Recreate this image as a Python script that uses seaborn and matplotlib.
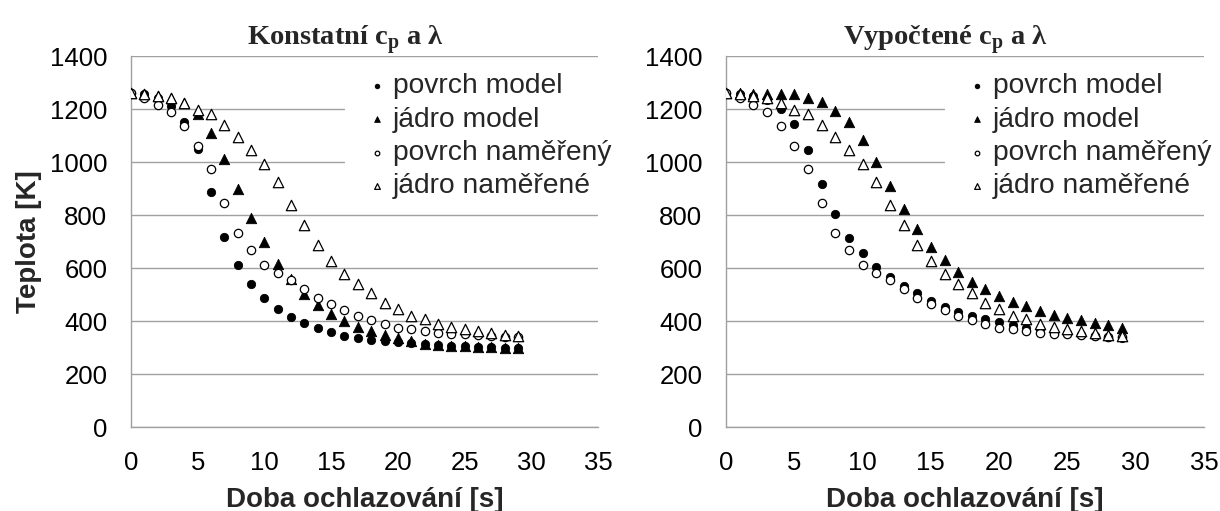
import matplotlib
matplotlib.use("Agg")
import matplotlib.pyplot as plt
import seaborn as sns
import pandas as pd

# ---------------- data ----------------
time_s = list(range(30))

left_surface_model = [1262, 1258, 1243, 1212, 1152, 1048, 886, 717, 612, 539,
                      485, 447, 416, 393, 374, 359, 345, 336, 327, 324,
                      320, 317, 312, 310, 307, 305, 302, 301, 300, 300]
left_core_model = [1262, 1256, 1249, 1241, 1222, 1181, 1111, 1010, 897, 787,
                   699, 615, 557, 501, 460, 428, 400, 378, 362, 346,
                   334, 325, 315, 311, 307, 305, 302, 302, 300, 300]
right_surface_model = [1262, 1258, 1250, 1234, 1200, 1142, 1045, 917, 802, 714,
                       655, 604, 567, 532, 504, 476, 453, 435, 418, 406,
                       397, 384, 374, 368, 359, 353, 346, 344, 340, 336]
right_core_model = [1262, 1260, 1257, 1256, 1256, 1255, 1241, 1228, 1194, 1150,
                    1083, 1001, 911, 822, 746, 680, 630, 586, 548, 519,
                    494, 472, 456, 438, 422, 413, 403, 393, 384, 375]
surface_measured = [1262, 1241, 1214, 1190, 1134, 1062, 974, 844, 733, 668,
                    612, 582, 556, 521, 486, 465, 441, 420, 405, 390,
                    374, 370, 363, 355, 350, 350, 346, 343, 339, 339]
core_measured = [1262, 1256, 1250, 1240, 1222, 1198, 1183, 1141, 1095, 1044,
                 991, 924, 837, 761, 686, 627, 577, 538, 504, 468,
                 445, 420, 406, 390, 378, 371, 364, 353, 348, 345]

series_labels = ["povrch model", "jádro model", "povrch naměřený", "jádro naměřené"]
panel_titles = [r"Konstatní c$_\mathregular{p}$ a λ", r"Vypočtené c$_\mathregular{p}$ a λ"]
x_label = "Doba ochlazování [s]"
y_label = "Teplota [K]"
x_ticks = [0, 5, 10, 15, 20, 25, 30, 35]
y_ticks = [0, 200, 400, 600, 800, 1000, 1200, 1400]

# ---------------- style ----------------
sns.set_theme(style="white")
plt.rcParams["font.family"] = ["Liberation Sans", "DejaVu Sans"]
GRID = "#a0a0a0"

fig = plt.figure(figsize=(12.2, 5.11), dpi=100)
W, H = 1220, 511
ax_left = fig.add_axes([131 / W, (H - 427) / H, 467 / W, 371 / H])
ax_right = fig.add_axes([726 / W, (H - 427) / H, 478 / W, 371 / H])

panels = [
    (ax_left, left_surface_model, left_core_model),
    (ax_right, right_surface_model, right_core_model),
]

styles = [
    dict(marker="o", s=36, color="black", edgecolor="black", linewidth=0.6),
    dict(marker="^", s=56, color="black", edgecolor="black", linewidth=0.6),
    dict(marker="o", s=36, facecolor="white", edgecolor="black", linewidth=0.9),
    dict(marker="^", s=56, facecolor="white", edgecolor="black", linewidth=0.9),
]

for i, (ax, surf_model, core_model) in enumerate(panels):
    series = [surf_model, core_model, surface_measured, core_measured]
    for lab, vals, st in zip(series_labels, series, styles):
        df = pd.DataFrame({"t": time_s, "T": vals})
        sns.scatterplot(data=df, x="t", y="T", ax=ax, label=lab, zorder=3, **st)

    ax.set_xlim(0, 35)
    ax.set_ylim(0, 1400)
    ax.set_xticks(x_ticks)
    ax.set_yticks(y_ticks)
    ax.yaxis.grid(True, color=GRID, linewidth=1.0)
    ax.xaxis.grid(False)
    ax.set_axisbelow(True)
    for side in ["top", "right"]:
        ax.spines[side].set_visible(False)
    for side in ["left", "bottom"]:
        ax.spines[side].set_color(GRID)
        ax.spines[side].set_linewidth(1.0)
    ax.tick_params(axis="both", which="major", direction="out", length=6,
                   width=1.0, color=GRID, labelsize=18.5, labelcolor="black")
    ax.tick_params(axis="y", pad=11)
    ax.tick_params(axis="x", pad=11)
    ax.set_xlabel(x_label, fontsize=20, fontweight="bold", labelpad=9)
    if i == 0:
        ax.set_ylabel(y_label, fontsize=20, fontweight="bold", labelpad=6)
    else:
        ax.set_ylabel("")
    ax.set_title(panel_titles[i], fontsize=20.5, fontweight="bold",
                 family="Liberation Serif", x=0.46, pad=8)

    leg = ax.legend(loc="upper left", bbox_to_anchor=(0.458, 0.976),
                    borderaxespad=0, frameon=True, facecolor="white",
                    edgecolor="none", framealpha=1.0, fontsize=20.3,
                    markerscale=0.55, handlelength=1.7, handletextpad=-0.3,
                    borderpad=0.3, labelspacing=0.26)
    leg.set_zorder(5)

fig.savefig("out.png", dpi=100)
